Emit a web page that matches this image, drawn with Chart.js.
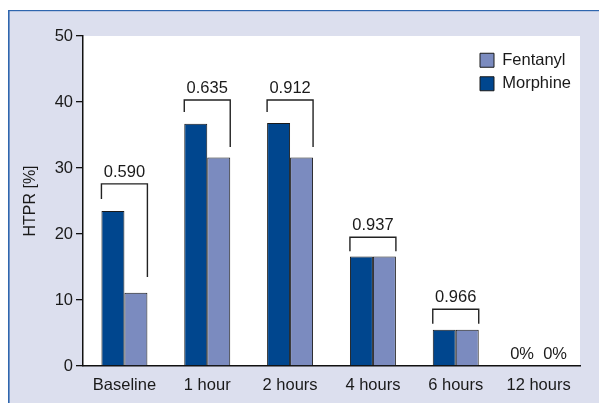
<!DOCTYPE html>
<html>
<head>
<meta charset="utf-8">
<script src="https://cdn.jsdelivr.net/npm/chart.js@4"></script>
<style>
  body { margin: 0; background: #fff; }
  #wrap { width: 599px; height: 403px; }
</style>
</head>
<body>
<div id="wrap"><canvas id="chart" width="599" height="403"></canvas></div>
<script>
const categories = ['Baseline', '1 hour', '2 hours', '4 hours', '6 hours', '12 hours'];
const morphine = [23.5, 36.7, 36.8, 16.6, 5.5, 0];
const fentanyl = [11.1, 31.6, 31.6, 16.6, 5.5, 0];
const yTicks = [0, 10, 20, 30, 40, 50];

// p-value brackets (one per category, 12 hours has none)
const pLabels = ['0.590', '0.635', '0.912', '0.937', '0.966'];
const bracketTop = [27.6, 40.3, 40.3, 19.5, 8.6];
const bracketLeftEnd = [25.3, 38.5, 38.5, 17.4, 6.4];
const bracketRightEnd = [13.5, 33.2, 33.2, 17.4, 6.4];

const FONT = "'Liberation Sans Narrow', 'Arial Narrow', 'Liberation Sans', Arial, sans-serif";
const SIZE = 16.5;
const LAVENDER = '#dcdfee';

// frame, lavender panel and white plot area
const backdrop = {
  id: 'backdrop',
  beforeDraw(chart) {
    const { ctx, chartArea: a } = chart;
    ctx.save();
    ctx.fillStyle = '#fff';
    ctx.fillRect(0, 0, chart.width, chart.height);
    ctx.fillStyle = LAVENDER;
    ctx.fillRect(9, 11, chart.width, chart.height);
    ctx.fillStyle = '#2f66ae';
    ctx.fillRect(8, 10, chart.width, 1.2);
    ctx.fillRect(8, 10, 1.6, chart.height);
    ctx.fillStyle = '#fff';
    ctx.fillRect(a.left, a.top, a.right - a.left, a.bottom - a.top);
    ctx.restore();
  }
};

// move the legend into the top right corner of the plot
const legendSpot = {
  id: 'legendSpot',
  afterLayout(chart) {
    const l = chart.legend;
    const w = l.width, h = l.height;
    l.left = 473; l.right = l.left + w;
    l.top = 45; l.bottom = l.top + h;
  }
};

// brackets with p-values, and 0% labels
const brackets = {
  id: 'brackets',
  afterDatasetsDraw(chart) {
    const { ctx } = chart;
    const y = chart.scales.y;
    const m = chart.getDatasetMeta(0).data;
    const f = chart.getDatasetMeta(1).data;
    ctx.save();
    ctx.strokeStyle = '#222';
    ctx.lineWidth = 1.4;
    ctx.fillStyle = '#1a1a1a';
    ctx.font = SIZE + 'px ' + FONT;
    ctx.textAlign = 'center';
    ctx.textBaseline = 'alphabetic';
    pLabels.forEach((txt, i) => {
      const xl = m[i].x - m[i].width / 2;
      const xr = f[i].x + f[i].width / 2;
      const yt = y.getPixelForValue(bracketTop[i]);
      ctx.beginPath();
      ctx.moveTo(xl, y.getPixelForValue(bracketLeftEnd[i]));
      ctx.lineTo(xl, yt);
      ctx.lineTo(xr, yt);
      ctx.lineTo(xr, y.getPixelForValue(bracketRightEnd[i]));
      ctx.stroke();
      ctx.fillText(txt, (xl + xr) / 2, yt - 7);
    });
    categories.forEach((c, i) => {
      const y0 = y.getPixelForValue(0) - 7;
      if (morphine[i] === 0) ctx.fillText('0%', m[i].x - 5, y0);
      if (fentanyl[i] === 0) ctx.fillText('0%', f[i].x + 5, y0);
    });
    ctx.restore();
  }
};

new Chart(document.getElementById('chart'), {
  type: 'bar',
  data: {
    labels: categories,
    datasets: [
      { label: 'Morphine', data: morphine, backgroundColor: '#00468e', borderColor: '#1a1a1a', borderWidth: 1 },
      { label: 'Fentanyl', data: fentanyl, backgroundColor: '#7b8bbf', borderColor: '#1a1a1a', borderWidth: 1 }
    ]
  },
  options: {
    responsive: false,
    animation: false,
    layout: { padding: { left: 0, top: 36, right: 19, bottom: 0 } },
    datasets: { bar: { categoryPercentage: 0.555, barPercentage: 1 } },
    plugins: {
      legend: {
        position: 'chartArea',
        align: 'start',
        reverse: true,
        labels: {
          boxWidth: 14, boxHeight: 14, padding: 7,
          color: '#1a1a1a',
          font: { family: FONT, size: SIZE }
        }
      },
      tooltip: { enabled: false }
    },
    scales: {
      x: {
        grid: { display: false },
        border: { display: true, color: '#111', width: 1.5 },
        ticks: { color: '#1a1a1a', padding: 2, font: { family: FONT, size: SIZE } },
        afterFit(s) { s.height = 37; }
      },
      y: {
        min: 0, max: 50,
        afterBuildTicks(s) { s.ticks = yTicks.map(v => ({ value: v })); },
        grid: { display: true, drawOnChartArea: false, drawTicks: true, tickLength: 7, color: '#111', lineWidth: 1.3 },
        border: { display: true, color: '#111', width: 1.5 },
        ticks: { color: '#1a1a1a', padding: 3, font: { family: FONT, size: SIZE } },
        title: { display: true, text: 'HTPR [%]', color: '#1a1a1a', padding: { top: 21, bottom: 0 }, font: { family: FONT, size: 16 } },
        afterFit(s) { s.width = 83; }
      }
    }
  },
  plugins: [backdrop, legendSpot, brackets]
});
</script>
</body>
</html>
